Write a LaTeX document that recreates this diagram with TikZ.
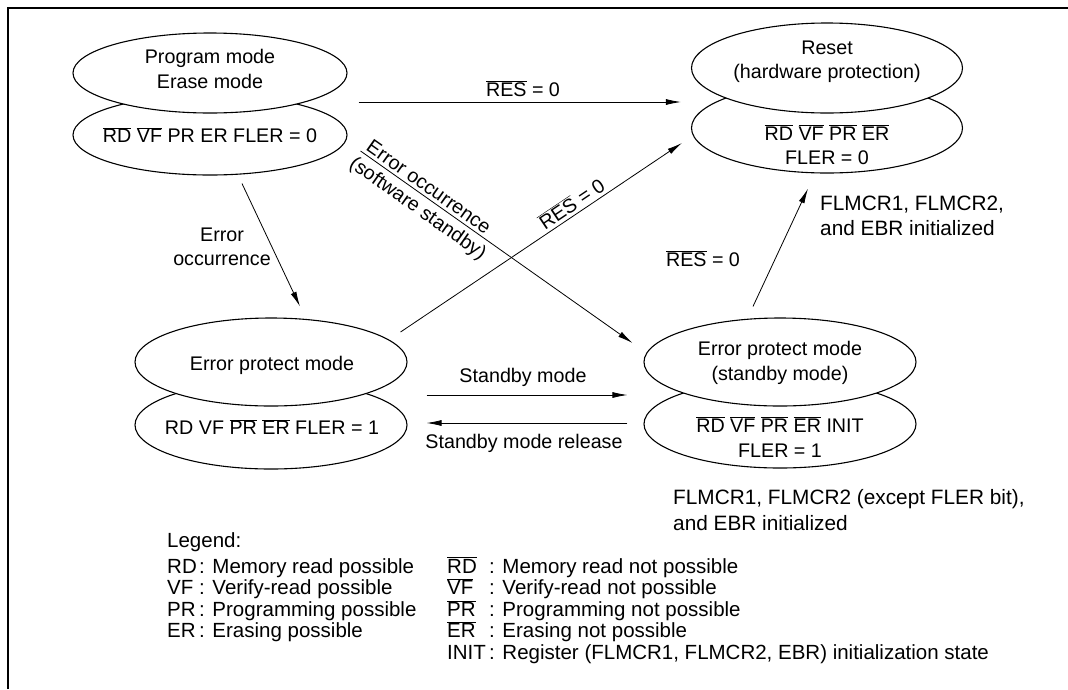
\documentclass[tikz,border=0pt]{standalone}
\usepackage{fontspec}
\setmainfont{Liberation Sans}
\usetikzlibrary{positioning,shapes.geometric,arrows.meta}

\newcommand{\ovl}[1]{$\overline{\mbox{#1}}$}

\tikzset{
  modeshape/.style={draw, ellipse, line width=1.1pt, fill=white, inner sep=0pt,
    minimum width=272pt, minimum height=88pt},
  txt/.style={inner sep=0pt, align=center, font=\fontsize{19.7}{24.5}\selectfont},
  note/.style={txt, anchor=west, align=left, font=\fontsize{20.8}{25.5}\selectfont},
  flow/.style={-{Latex[length=15pt,width=6pt]}, line width=0.8pt},
  leg/.style={inner sep=0pt, anchor=base west, font=\fontsize{20.5}{23}\selectfont}
}

\begin{document}
\begin{tikzpicture}[x=1pt,y=-1pt]
    \useasboundingbox (0,0) rectangle (1068,689);

    % Frame (top and left only)
    \draw[line width=2.2pt] (8,689) -- (8,8) -- (1068,8);

    % Program mode / Erase mode
    \node[modeshape, minimum width=274pt, minimum height=80pt] (pe_lo) at (210,135) {};
    \node[modeshape, minimum width=274pt, minimum height=80pt] (pe_up) at (210,73) {};
    \node[txt] (pe_t1) at (210,69) {Program mode\\Erase mode};
    \node[txt] (pe_t2) at (210,135) {\ovl{RD} \ovl{VF} PR ER FLER = 0};

    % Reset (hardware protection)
    \node[modeshape, minimum width=271pt, minimum height=90pt] (rs_lo) at (827,128) {};
    \node[modeshape, minimum width=271pt, minimum height=90pt] (rs_up) at (827,68) {};
    \node[txt] (rs_t1) at (827,62) {Reset\\(hardware protection)};
    \node[txt] (rs_t2) at (827,145) {\ovl{RD} \ovl{VF} \ovl{PR} \ovl{ER}\\FLER = 0};

    % Error protect mode
    \node[modeshape] (ep_lo) at (271,425) {};
    \node[modeshape] (ep_up) at (271,362) {};
    \node[txt] (ep_t1) at (272,365) {Error protect mode};
    \node[txt] (ep_t2) at (272,427) {RD VF \ovl{PR} \ovl{ER} FLER = 1};

    % Error protect mode (standby mode)
    \node[modeshape] (er_lo) at (780,424) {};
    \node[modeshape] (er_up) at (780,362) {};
    \node[txt] (er_t1) at (780,363) {Error protect mode\\(standby mode)};
    \node[txt] (er_t2) at (780,437) {\ovl{RD} \ovl{VF} \ovl{PR} \ovl{ER} INIT\\FLER = 1};

    % Transitions
    \draw[flow] ([shift={(11,29)}]pe_up.east) -- ([shift={(-10,34)}]rs_up.west);
    \node[txt] (l_res1) at (523,89) {\ovl{RES} = 0};

    \draw[flow] ([shift={(13,16)}]pe_lo.east) -- ([shift={(-11,-19)}]er_up.west)
        node[txt, sloped, pos=0.23, above=3pt] (l_soft1) {Error occurrence}
        node[txt, sloped, pos=0.24, below=5pt] (l_soft2) {(software standby)};

    \draw[flow] ([shift={(-7,-30)}]ep_up.east) -- ([shift={(-9,15)}]rs_lo.west)
        node[txt, sloped, pos=0.63, above=3pt] (l_res2) {\ovl{RES} = 0};

    \draw[flow] ([shift={(32,8)}]pe_lo.south) -- ([shift={(29,-11)}]ep_up.north);
    \node[txt] (l_err) at (222,247) {Error\\occurrence};

    \draw[flow] ([shift={(19,33)}]ep_up.east) -- ([shift={(-16,33)}]er_up.west);
    \node[txt] (l_sby) at (523,377) {Standby mode};
    \draw[flow] ([shift={(-16,61)}]er_up.west) -- ([shift={(19,61)}]ep_up.east);
    \node[txt] (l_rel) at (524,443) {Standby mode release};

    \draw[flow] ([shift={(-27,-11)}]er_up.north) -- ([shift={(-19,15)}]rs_lo.south);
    \node[txt] (l_res3) at (703,259) {\ovl{RES} = 0};

    % Notes
    \node[note] (n_init1) at (820,216) {FLMCR1, FLMCR2,\\and EBR initialized};
    \node[note] (n_init2) at (673,510) {FLMCR1, FLMCR2 (except FLER bit),\\and EBR initialized};

    % Legend
    \node[leg] (lg) at (167,547) {Legend:};
    \foreach \ab/\tx/\nx [count=\i] in {RD/Memory read possible/Memory read not possible,
        VF/Verify-read possible/Verify-read not possible,
        PR/Programming possible/Programming not possible,
        ER/Erasing possible/Erasing not possible} {
        \node[leg] (lga\i) at (167,{551.4+21.6*\i}) {\ab};
        \node[leg] (lgb\i) at (199,{551.4+21.6*\i}) {: \tx};
        \node[leg] (lgc\i) at (447,{551.4+21.6*\i}) {\ovl{\ab}};
        \node[leg] (lgd\i) at (489,{551.4+21.6*\i}) {: \nx};
    }
    \node[leg] (lgc5) at (447,659.4) {INIT};
    \node[leg] (lgd5) at (489,659.4) {: Register (FLMCR1, FLMCR2, EBR) initialization state};

\end{tikzpicture}
\end{document}
